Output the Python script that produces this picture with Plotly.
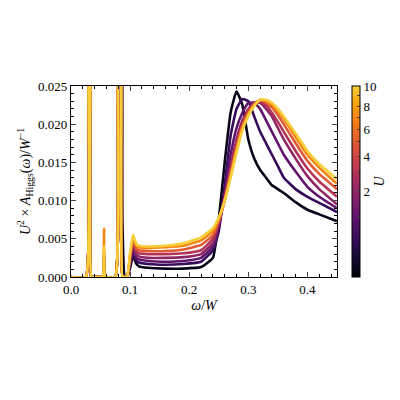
import numpy as np
import plotly.graph_objects as go
import plotly.colors as pc

U = [0.02, 0.4, 1, 2, 3, 5, 7, 10]

w = [0.0, 0.025, 0.028, 0.031, 0.034, 0.037, 0.05, 0.054, 0.056, 0.058, 0.075, 0.079, 0.083, 0.087, 0.091,
     0.095, 0.1, 0.105, 0.11, 0.115, 0.13, 0.16, 0.19, 0.22, 0.24, 0.25, 0.26, 0.27, 0.28, 0.29, 0.3,
     0.31, 0.32, 0.33, 0.34, 0.35, 0.36, 0.38, 0.4, 0.42, 0.45]

# low-frequency spikes (shared) with per-curve heights at 0.056 and 0.087
spike_056 = [0.0015, 0.0018, 0.002, 0.0025, 0.003, 0.0035, 0.0063, 0.004]
spike_087 = [0.0072, 0.0, 0.0, 0.0, 0.0, 0.0, 0.0, 0.0]

A_high = [
    [0.0, 0.0012, 0.0028, 0.0018, 0.0014, 0.0012, 0.0011, 0.0011, 0.0013, 0.0025, 0.0075, 0.015, 0.0215, 0.0243, 0.0225, 0.018, 0.0155, 0.014, 0.013, 0.012, 0.0115, 0.011, 0.0098, 0.0088, 0.0082, 0.0073],
    [0.0, 0.0015, 0.0033, 0.0022, 0.0019, 0.0017, 0.0016, 0.0017, 0.002, 0.0035, 0.006, 0.012, 0.0185, 0.022, 0.0233, 0.023, 0.021, 0.019, 0.0175, 0.016, 0.0145, 0.013, 0.0115, 0.0105, 0.0097, 0.0085],
    [0.0, 0.0018, 0.0038, 0.0026, 0.0023, 0.0021, 0.002, 0.0021, 0.0025, 0.004, 0.0065, 0.011, 0.016, 0.0195, 0.0215, 0.0228, 0.0228, 0.022, 0.0205, 0.019, 0.0175, 0.016, 0.0138, 0.0118, 0.0105, 0.009],
    [0.0, 0.0021, 0.0043, 0.003, 0.0027, 0.0025, 0.0025, 0.0026, 0.003, 0.0045, 0.007, 0.0105, 0.0145, 0.018, 0.0205, 0.022, 0.0228, 0.0228, 0.022, 0.021, 0.0195, 0.018, 0.0155, 0.0132, 0.0115, 0.0095],
    [0.0, 0.0024, 0.0047, 0.0034, 0.0031, 0.003, 0.003, 0.0031, 0.0035, 0.005, 0.0072, 0.0102, 0.014, 0.0175, 0.02, 0.0218, 0.0228, 0.023, 0.0225, 0.0215, 0.0203, 0.019, 0.0165, 0.0142, 0.0125, 0.0105],
    [0.0, 0.0027, 0.005, 0.0038, 0.0035, 0.0034, 0.0034, 0.0036, 0.0042, 0.0055, 0.0074, 0.01, 0.0135, 0.017, 0.0197, 0.0215, 0.0226, 0.0231, 0.0228, 0.0222, 0.0212, 0.02, 0.0175, 0.0152, 0.0135, 0.0115],
    [0.0, 0.003, 0.0053, 0.0042, 0.0039, 0.0038, 0.0039, 0.0041, 0.0048, 0.006, 0.0076, 0.01, 0.0132, 0.0166, 0.0195, 0.0213, 0.0225, 0.0232, 0.023, 0.0225, 0.0217, 0.0207, 0.0183, 0.016, 0.0143, 0.0122],
    [0.0, 0.0032, 0.0055, 0.0044, 0.0041, 0.004, 0.0041, 0.0044, 0.0052, 0.0064, 0.0078, 0.01, 0.013, 0.0163, 0.0192, 0.0211, 0.0224, 0.0232, 0.0232, 0.0228, 0.022, 0.021, 0.0188, 0.0165, 0.0148, 0.0128],
]

cbar_ticks = [2, 4, 6, 8, 10]
cbar_minor = [1, 3, 5, 7, 9]
umax = 10.0

# inferno truncated before its pale top
stops = np.linspace(0, 1, 11)
cols = pc.sample_colorscale("Inferno", list(stops * 0.88))
cscale = [[s, c] for s, c in zip(stops, cols)]

fig = go.Figure()
for i, u in enumerate(U):
    low = [0, 0, 0.05, 0.05, 0, 0, 0, 0, spike_056[i], 0, 0, 0.05, 0.05, spike_087[i], 0]
    col = pc.sample_colorscale("Inferno", [0.88 * np.sqrt(u / umax)])[0]
    fig.add_trace(go.Scatter(x=w, y=low + A_high[i], mode="lines",
                             line=dict(color=col, width=2.6, shape="spline", smoothing=0.4),
                             showlegend=False))

tv = sorted(cbar_ticks + cbar_minor)
fig.add_trace(go.Scatter(
    x=[None], y=[None], mode="markers", showlegend=False,
    marker=dict(color=[0, 1], cmin=0, cmax=np.sqrt(umax), colorscale=cscale, showscale=True,
                colorbar=dict(x=1.055, xanchor="left", xpad=0, ypad=0, y=0, yanchor="bottom",
                              len=1, lenmode="fraction",
                              thickness=8, outlinewidth=1, outlinecolor="black",
                              tickvals=[np.sqrt(t) for t in tv],
                              ticktext=[str(t) if t in cbar_ticks else "" for t in tv],
                              ticks="inside", ticklen=3, tickfont=dict(size=13),
                              title=dict(text="<i>U</i>", side="right", font=dict(size=14))))))

axis = dict(showline=True, linecolor="black", linewidth=1.2, mirror="ticks", ticks="inside",
            ticklen=5, showgrid=False, zeroline=False, tickfont=dict(size=13), automargin=False,
            minor=dict(ticks="inside", ticklen=3, tickcolor="black"))
fig.update_xaxes(range=[0, 0.45], dtick=0.1, tickformat=".1f", minor_dtick=0.02,
                 title=dict(text="<i>ω</i>/<i>W</i>", font=dict(size=14), standoff=4), **axis)
fig.update_yaxes(range=[0, 0.025], dtick=0.005, tickformat=".3f", minor_dtick=0.001,
                 title=dict(text="<i>U</i><sup>2</sup> × <i>A</i><sub>Higgs</sub>(<i>ω</i>)/<i>W</i><sup>−1</sup>",
                            font=dict(size=14), standoff=4), **axis)
fig.update_layout(width=400, height=400, margin=dict(l=63, r=71, t=78, b=131, autoexpand=False),
                  plot_bgcolor="white", paper_bgcolor="white",
                  font=dict(family="Liberation Serif", color="black"))
fig.write_html("out.html")
